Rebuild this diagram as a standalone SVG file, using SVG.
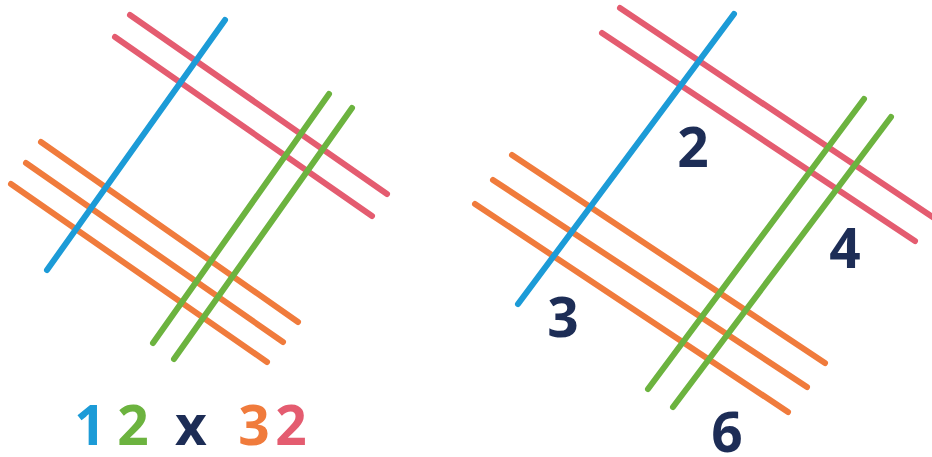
<svg xmlns="http://www.w3.org/2000/svg" width="932" height="457" viewBox="0 0 932 457">
<style>
line{stroke-width:6;stroke-linecap:round;fill:none}
.b{stroke:#1c9bd7}
.g{stroke:#6cb33f}
.o{stroke:#f07b3c}
.p{stroke:#e45c70}
text{font-family:"Open Sans","Noto Sans","Liberation Sans",sans-serif;font-weight:700;font-size:55px;text-anchor:middle}
.n{fill:#1d2d56}
</style>
<rect width="932" height="457" fill="#ffffff"/>
<g id="left-lines">
<line class="p" x1="130" y1="15" x2="387" y2="194"/>
<line class="p" x1="115" y1="37" x2="372" y2="216"/>
<line class="o" x1="41" y1="142" x2="298" y2="322"/>
<line class="o" x1="26" y1="163" x2="283" y2="342"/>
<line class="o" x1="11" y1="184" x2="267" y2="362"/>
<line class="b" x1="225" y1="20" x2="47" y2="270"/>
<line class="g" x1="329" y1="94" x2="153" y2="343"/>
<line class="g" x1="352" y1="108" x2="174" y2="359"/>
</g>
<g id="left-label">
<text x="90" y="445" fill="#1c9bd7">1</text>
<text x="133" y="445" fill="#6cb33f">2</text>
<text x="191" y="445" fill="#1d2d56" font-size="44">x</text>
<text x="254" y="445" fill="#f07b3c">3</text>
<text x="291" y="445" fill="#e45c70">2</text>
</g>
<g id="right-lines">
<line class="p" x1="620" y1="8" x2="934" y2="218"/>
<line class="p" x1="602" y1="33" x2="915" y2="241"/>
<line class="o" x1="512" y1="155" x2="825" y2="363"/>
<line class="o" x1="493" y1="180" x2="807" y2="387"/>
<line class="o" x1="475" y1="204" x2="788" y2="412"/>
<line class="b" x1="734" y1="14" x2="518" y2="304"/>
<line class="g" x1="864" y1="99" x2="648" y2="389"/>
<line class="g" x1="891" y1="117" x2="673" y2="407"/>
</g>
<g id="right-labels">
<text class="n" x="693" y="167">2</text>
<text class="n" x="563" y="337">3</text>
<text class="n" x="845" y="268">4</text>
<text class="n" x="727" y="452">6</text>
</g>
</svg>
